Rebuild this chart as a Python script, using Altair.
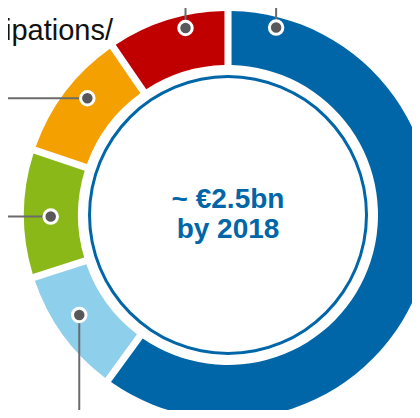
import altair as alt
import pandas as pd
import numpy as np

# ---- data ----
segments = ["Segment A", "Segment B", "Segment C", "Segment D", "Segment E"]
shares = [60.0, 10.05, 10.1, 10.3, 9.55]          # % of total (clockwise from 12 o'clock)
seg_colors = ["#0066A8", "#8ECFEC", "#8BB819", "#F4A000", "#C00000"]

center_lines = ["~ €2.5bn", "by 2018"]
side_label = "Participations/"

# leader dots: which segment, angle (deg, clockwise from top), radius (px), leader direction
lead_segments = ["Segment A", "Segment E", "Segment D", "Segment C", "Segment B"]
lead_angles = [14.4, 347.2, 309.7, 269.5, 236.1]
lead_radius = [193.5, 191.8, 182.8, 177.3, 179.2]
lead_dir = ["up", "up", "left", "left", "down"]

# ---- layout / style ----
W, H = 404, 402
CX, CY = 220, 207            # donut centre inside the plot (px)
R_OUT, R_IN = 204, 150
BLUE = "#0066A8"
GRAY = "#6B6B6D"
DOT = "#58585A"
FONT = "Liberation Sans"

xs = alt.Scale(domain=[-CX, W - CX], nice=False, zero=False)
ys = alt.Scale(domain=[-(H - CY), CY], nice=False, zero=False)

seg_df = pd.DataFrame({"segment": segments, "value": shares, "idx": range(len(segments))})

a = np.radians(lead_angles)
r = np.array(lead_radius)
lx = r * np.sin(a)
ly = r * np.cos(a)
x2 = [(-CX - 20) if d == "left" else x for d, x in zip(lead_dir, lx)]
y2 = [(CY + 20) if d == "up" else ((-(H - CY) - 20) if d == "down" else y) for d, y in zip(lead_dir, ly)]
lead_df = pd.DataFrame({"segment": lead_segments, "x": lx, "y": ly, "x2": x2, "y2": y2})

arcs = alt.Chart(seg_df).mark_arc(
    innerRadius=R_IN, outerRadius=R_OUT, padAngle=0.028
).encode(
    theta=alt.Theta("value:Q", stack=True),
    color=alt.Color("segment:N", scale=alt.Scale(domain=segments, range=seg_colors), legend=None),
    order=alt.Order("idx:Q"),
    x=alt.value(CX),
    y=alt.value(CY),
)

ring = alt.Chart(pd.DataFrame({"k": [0]})).mark_arc(
    innerRadius=137, outerRadius=140, theta=0, theta2=float(2 * np.pi), color=BLUE
).encode(x=alt.value(CX), y=alt.value(CY))

rules = alt.Chart(lead_df).mark_rule(color=GRAY, strokeWidth=2).encode(
    x=alt.X("x:Q", scale=xs, axis=None),
    y=alt.Y("y:Q", scale=ys, axis=None),
    x2="x2:Q",
    y2="y2:Q",
)

dots = alt.Chart(lead_df).mark_point(
    filled=True, shape="circle", size=182, fill=DOT, stroke="white", strokeWidth=3, opacity=1
).encode(
    x=alt.X("x:Q", scale=xs, axis=None),
    y=alt.Y("y:Q", scale=ys, axis=None),
)

center = alt.Chart(pd.DataFrame({"t": ["\n".join(center_lines)]})).mark_text(
    font=FONT, fontSize=28, fontWeight="bold", color=BLUE, align="center",
    baseline="alphabetic", lineBreak="\n", lineHeight=30
).encode(text="t:N", x=alt.value(CX), y=alt.value(CY - 7))

side = alt.Chart(pd.DataFrame({"t": [side_label]})).mark_text(
    font=FONT, fontSize=29, color="#111111", align="right", baseline="alphabetic"
).encode(text="t:N", x=alt.value(CX - 115), y=alt.value(CY - 175.5))

chart = alt.layer(arcs, ring, rules, dots, center, side).properties(
    width=W, height=H,
    autosize=alt.AutoSizeParams(type="none"),
    padding=0,
).configure_view(stroke=None)

chart.save("out.html", embed_options={"renderer": "svg", "actions": False})
